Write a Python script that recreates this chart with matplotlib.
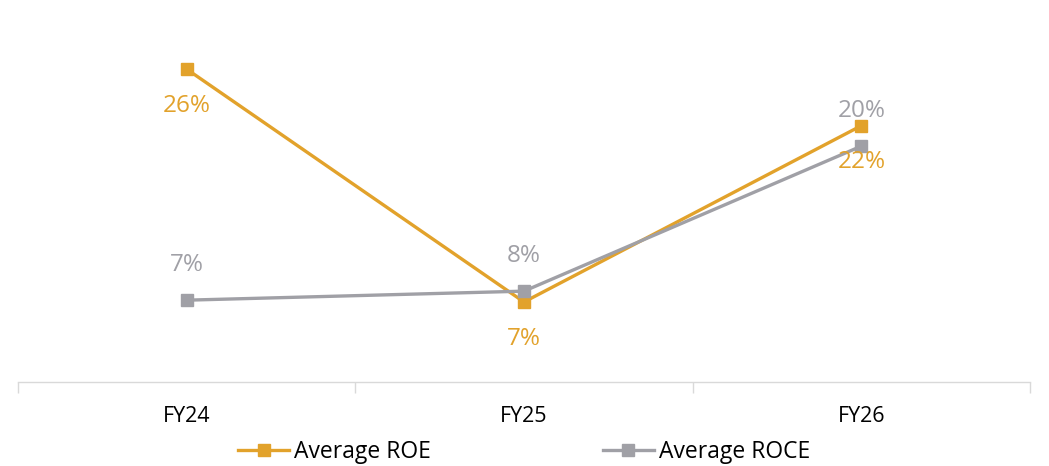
import matplotlib.pyplot as plt
import numpy as np

years = ['FY24', 'FY25', 'FY26']
roe = [26.0, 6.65, 21.3]
roce = [6.8, 7.55, 19.6]
roe_labels = ['26%', '7%', '22%']
roce_labels = ['7%', '8%', '20%']

orange = '#E2A22B'
grey = '#A0A0A6'

plt.rcParams['font.family'] = ['Open Sans', 'DejaVu Sans']

fig = plt.figure(figsize=(10.49, 4.66), dpi=100)
ax = fig.add_axes([18 / 1049, 1 - 382 / 466, 1012 / 1049, 361 / 466])

x = np.arange(len(years))
ax.plot(x, roe, color=orange, lw=2.4, marker='s', ms=9, label='Average ROE', zorder=3)
ax.plot(x, roce, color=grey, lw=2.4, marker='s', ms=9, label='Average ROCE', zorder=3)

# data labels: ROE below, ROCE above
for xi, v, t in zip(x, roe, roe_labels):
    ax.annotate(t, (xi, v), xytext=(0, -26.5), textcoords='offset points',
                ha='center', va='center', color=orange, fontsize=17.5)
for xi, v, t in zip(x, roce, roce_labels):
    ax.annotate(t, (xi, v), xytext=(0, 25), textcoords='offset points',
                ha='center', va='center', color=grey, fontsize=17.5)

ax.set_xlim(-0.5, 2.5)
ax.set_ylim(0, 30)
ax.set_yticks([])
ax.set_xticks(x)
ax.set_xticklabels(years, fontsize=15.5)
ax.set_xticks([-0.5, 0.5, 1.5, 2.5], minor=True)
ax.tick_params(axis='x', which='major', length=0, pad=17.5)
ax.tick_params(axis='x', which='minor', length=8, color='#D9D9D9', width=1)
for s in ['top', 'right', 'left']:
    ax.spines[s].set_visible(False)
ax.spines['bottom'].set_color('#D9D9D9')
ax.spines['bottom'].set_linewidth(1)

fig.legend(loc='center', bbox_to_anchor=(0.5, 1 - 452 / 466), ncol=2, frameon=False,
           fontsize=16.5, handlelength=2.2, handletextpad=0.25, columnspacing=7.5)

fig.savefig('out.png', dpi=100)
